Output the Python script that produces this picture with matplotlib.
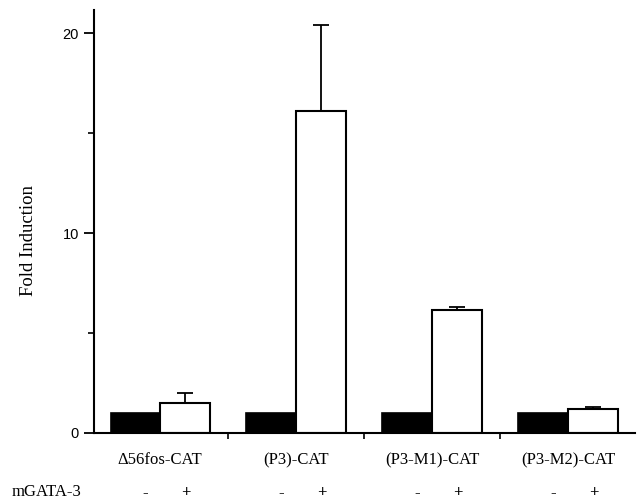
import matplotlib.pyplot as plt
import numpy as np

groups = ["\u039456fos-CAT", "(P3)-CAT", "(P3-M1)-CAT", "(P3-M2)-CAT"]
minus_vals = [1.0, 1.0, 1.0, 1.0]      # without mGATA-3 (black)
plus_vals = [1.5, 16.1, 6.15, 1.2]     # with mGATA-3 (white)
plus_err = [0.5, 4.3, 0.15, 0.1]
y_ticks = [0, 10, 20]

fig = plt.figure(figsize=(6.41, 5.04), dpi=100)
ax = fig.add_axes([0.147, 0.141, 0.843, 0.839])

x = np.arange(len(groups))
w = 0.365
ax.bar(x - w / 2, minus_vals, w, color="black", edgecolor="black", linewidth=1.2)
ax.bar(x + w / 2, plus_vals, w, color="white", edgecolor="black", linewidth=1.5,
       yerr=[np.zeros(len(plus_err)), plus_err], capsize=6,
       error_kw=dict(ecolor="black", elinewidth=1.3, capthick=1.3))

ax.set_xlim(-0.485, 3.49)
ax.set_ylim(0, 21.15)
for s in ["top", "right"]:
    ax.spines[s].set_visible(False)
ax.spines["left"].set_linewidth(1.5)
ax.spines["bottom"].set_linewidth(1.5)

ax.set_yticks(y_ticks)
ax.set_yticks([5, 15], minor=True)
ax.set_yticklabels([str(t) for t in y_ticks], family="Liberation Sans", fontsize=10.5)
ax.tick_params(axis="y", which="major", direction="out", length=7, width=1.3, pad=4)
ax.tick_params(axis="y", which="minor", direction="out", length=4, width=1.2)

ax.set_xticks([0.5, 1.5, 2.5])
ax.set_xticklabels([])
ax.tick_params(axis="x", direction="out", length=4, width=1.2)

ax.set_ylabel("Fold Induction", family="Liberation Serif", fontsize=13.5)
ax.yaxis.set_label_coords(-0.105, 0.454)

for i, g in enumerate(groups):
    ax.text(i, -1.35, g, ha="center", va="center", family="Liberation Serif", fontsize=12)
    ax.text(i - 0.11, -3.0, "-", ha="center", va="center", family="Liberation Serif", fontsize=12)
    ax.text(i + 0.19, -3.0, "+", ha="center", va="center", family="Liberation Serif",
            fontsize=12, fontweight="bold")
fig.text(12 / 641, 1 - 492 / 504, "mGATA-3", ha="left", va="center",
         family="Liberation Serif", fontsize=12)

fig.savefig("out.png", dpi=100)
